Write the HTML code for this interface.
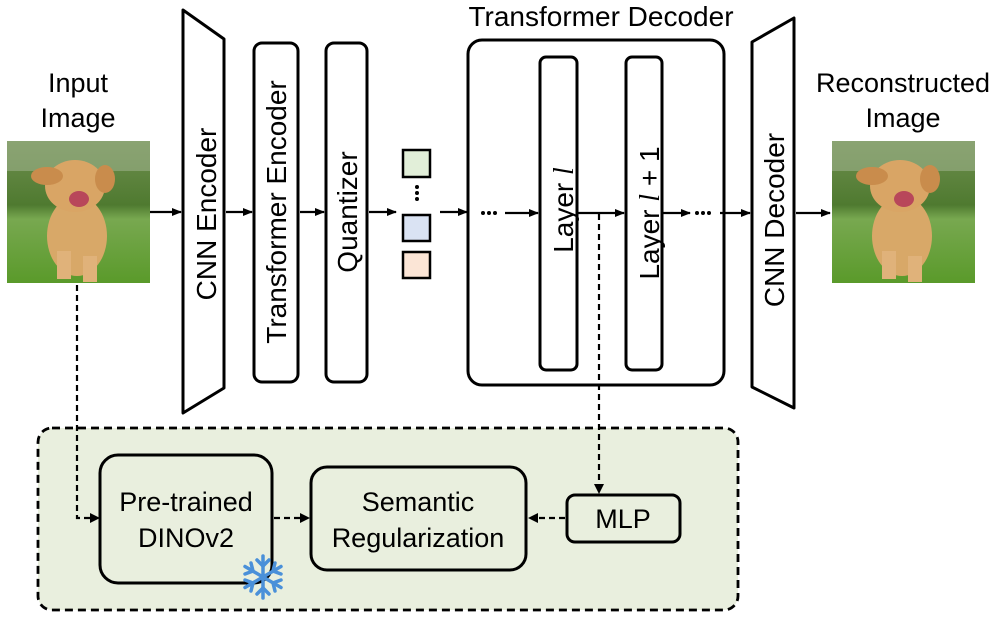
<!DOCTYPE html>
<html><head><meta charset="utf-8"><style>
html,body{margin:0;padding:0;background:#fff}
svg{display:block}
text{font-family:"Liberation Sans",sans-serif;fill:#000}
</style></head><body>
<svg width="997" height="621" viewBox="0 0 997 621" xmlns="http://www.w3.org/2000/svg">
<defs>
<marker id="ah" markerWidth="10" markerHeight="10" refX="9" refY="5" orient="auto" markerUnits="userSpaceOnUse">
<path d="M0,1 L10,5 L0,9 z" fill="#000"/></marker>
<linearGradient id="bg" x1="0" y1="0" x2="0" y2="1">
<stop offset="0" stop-color="#6f8f4f"/><stop offset="0.45" stop-color="#4f7a30"/><stop offset="0.55" stop-color="#78a850"/><stop offset="1" stop-color="#5a9a2a"/></linearGradient>
<g id="dog">
<rect x="0" y="0" width="143" height="142" fill="url(#bg)"/>
<rect x="0" y="0" width="143" height="30" fill="#9db08a" opacity="0.6"/>
<ellipse cx="70" cy="95" rx="30" ry="40" fill="#d8a868"/>
<ellipse cx="68" cy="45" rx="30" ry="26" fill="#d9a565"/>
<ellipse cx="40" cy="35" rx="16" ry="9" fill="#c98c4c"/>
<ellipse cx="98" cy="38" rx="10" ry="14" fill="#c98c4c"/>
<ellipse cx="72" cy="58" rx="10" ry="8" fill="#b8475a"/>
<rect x="50" y="110" width="14" height="28" fill="#e0b27a"/>
<rect x="76" y="115" width="14" height="26" fill="#e0b27a"/>
</g>
</defs>

<text x="78" y="92" font-size="27" text-anchor="middle">Input</text>
<text x="78" y="127" font-size="27" text-anchor="middle">Image</text>
<use href="#dog" x="7" y="141"/>

<text x="903" y="92" font-size="27" text-anchor="middle">Reconstructed</text>
<text x="903" y="127" font-size="27" text-anchor="middle">Image</text>
<use href="#dog" x="832" y="141"/>

<g fill="#fff" stroke="#000" stroke-width="3" stroke-linejoin="round">
<path d="M183,10 L224,39 L224,388 L183,413 Z"/>
<rect x="254" y="43" width="44" height="339" rx="8"/>
<rect x="326" y="43" width="41" height="339" rx="8"/>
<rect x="468" y="40" width="256" height="345" rx="14"/>
<rect x="540" y="57" width="37" height="313" rx="6"/>
<rect x="626" y="57" width="36" height="313" rx="6"/>
<path d="M752,42 L794,18 L794,408 L752,387 Z"/>
</g>
<rect x="403" y="150" width="27" height="27" fill="#e2efd9" stroke="#000" stroke-width="2.5"/>
<rect x="403" y="215" width="27" height="26" fill="#dae3f3" stroke="#000" stroke-width="2.5"/>
<rect x="403" y="252" width="27" height="26" fill="#fbe5d6" stroke="#000" stroke-width="2.5"/>
<g fill="#000"><circle cx="417" cy="187" r="2"/><circle cx="417" cy="193" r="2"/><circle cx="417" cy="199" r="2"/>
<circle cx="483" cy="213" r="2"/><circle cx="489" cy="213" r="2"/><circle cx="495" cy="213" r="2"/>
<circle cx="697" cy="213" r="2"/><circle cx="703" cy="213" r="2"/><circle cx="709" cy="213" r="2"/></g>

<g font-size="28" text-anchor="middle">
<text transform="translate(213,214) rotate(-90)" dy="3">CNN Encoder</text>
<text transform="translate(285,212) rotate(-90)" dy="1">Transformer Encoder</text>
<text transform="translate(355,212) rotate(-90)" dy="2">Quantizer</text>
<text transform="translate(567,210) rotate(-90)" dy="6">Layer <tspan font-family="Liberation Serif" font-style="italic">l</tspan></text>
<text transform="translate(653,213) rotate(-90)" dy="6">Layer <tspan font-family="Liberation Serif" font-style="italic">l</tspan> + 1</text>
<text transform="translate(782,220) rotate(-90)" dy="2">CNN Decoder</text>
</g>
<text x="601" y="26" font-size="28" text-anchor="middle">Transformer Decoder</text>

<g stroke="#000" stroke-width="2.2" fill="none" marker-end="url(#ah)">
<line x1="150" y1="212" x2="181" y2="212"/>
<line x1="226" y1="212" x2="252" y2="212"/>
<line x1="300" y1="212" x2="324" y2="212"/>
<line x1="369" y1="212" x2="396" y2="212"/>
<line x1="440" y1="212" x2="467" y2="212"/>
<line x1="505" y1="213" x2="538" y2="213"/>
<line x1="578" y1="213" x2="624" y2="213"/>
<line x1="663" y1="213" x2="690" y2="213"/>
<line x1="720" y1="213" x2="750" y2="213"/>
<line x1="796" y1="213" x2="830" y2="213"/>
</g>

<rect x="38" y="428" width="700" height="182" rx="14" fill="#e9efde" stroke="#000" stroke-width="2.8" stroke-dasharray="8,5"/>
<g fill="#e9efde" stroke="#000" stroke-width="3">
<rect x="100" y="455" width="172" height="128" rx="18"/>
<rect x="311" y="467" width="215" height="103" rx="16"/>
<rect x="567" y="495" width="113" height="47" rx="8"/>
</g>
<g font-size="27" text-anchor="middle">
<text x="186" y="511">Pre-trained</text>
<text x="186" y="547">DINOv2</text>
<text x="418" y="511">Semantic</text>
<text x="418" y="547">Regularization</text>
<text x="623" y="528">MLP</text>
</g>
<g stroke="#000" stroke-width="2.2" fill="none" stroke-dasharray="6,4">
<path d="M77,285 L77,518 L92,518" />
<line x1="599" y1="214" x2="599" y2="485"/>
<line x1="274" y1="518" x2="302" y2="518"/>
<line x1="565" y1="518" x2="537" y2="518"/>
</g>
<g fill="#000">
<path d="M90,513 L100,518 L90,523 z"/>
<path d="M594,484 L599,494 L604,484 z"/>
<path d="M300,513 L310,518 L300,523 z"/>
<path d="M538,513 L528,518 L538,523 z"/>
</g>
<g stroke="#4a90d9" stroke-width="3.5" stroke-linecap="round" transform="translate(263,577)">
<line x1="0" y1="-21" x2="0" y2="21"/>
<line x1="-18" y1="-10.5" x2="18" y2="10.5"/>
<line x1="-18" y1="10.5" x2="18" y2="-10.5"/>
<path d="M-6,-17 L0,-11 L6,-17 M-6,17 L0,11 L6,17" fill="none"/>
<path d="M-18,-3 L-10,-6 L-12,-14 M18,3 L10,6 L12,14 M-18,3 L-10,6 L-12,14 M18,-3 L10,-6 L12,-14" fill="none"/>
</g>
</svg>
</body></html>
